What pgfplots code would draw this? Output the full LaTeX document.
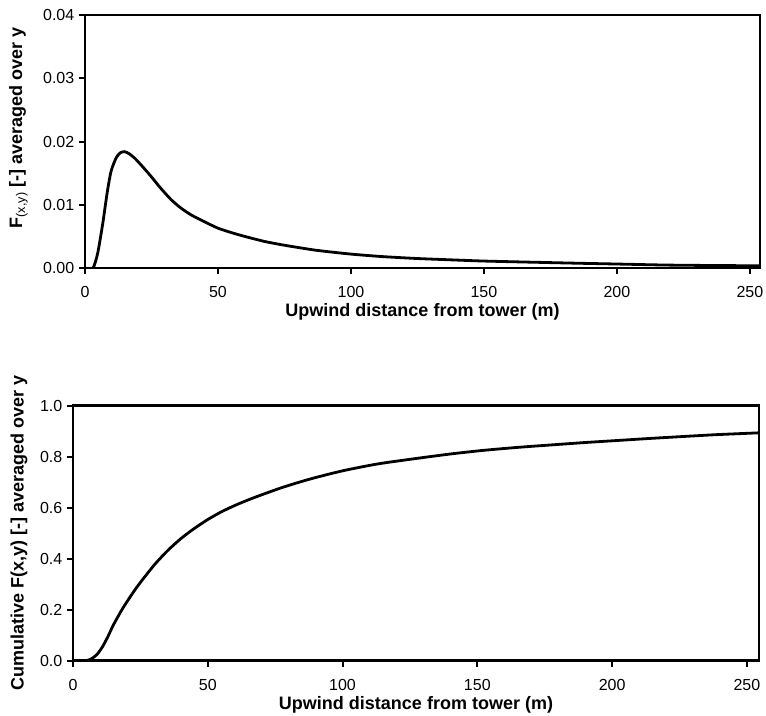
\documentclass[border=0pt]{standalone}
\usepackage{pgfplots}
\pgfplotsset{compat=1.18}
\usepackage{fontspec}
\setmainfont{Liberation Sans}
\begin{document}
\begin{tikzpicture}
\useasboundingbox (0pt,0pt) rectangle (574.5pt,-536.25pt);
\pgfplotsset{
  every axis/.append style={
    scale only axis,
    axis line style={line width=2pt},
    tick style={line width=1.5pt,black},
    major tick length=4.5pt,
    tick align=outside,
    xtick pos=bottom, ytick pos=left,
    /pgf/number format/assume math mode=true,
    tick label style={font=\fontsize{12}{14}\selectfont},
    label style={font=\bfseries\fontsize{13.5}{16}\selectfont},
    xmin=0, xtick={0,50,100,150,200,250},
    xlabel={Upwind distance from tower (m)},
    xticklabel style={yshift=-6pt},
    every axis x label/.append style={at={(0.5,0)},anchor=north,yshift=-23.3pt},
  }
}
% Top panel
\begin{axis}[
  at={(63.75pt,-201pt)}, anchor=south west,
  width=506.25pt, height=189.75pt,
  xmax=253.8, ymin=0, ymax=0.04,
  ytick={0,0.01,0.02,0.03,0.04},
  yticklabel style={/pgf/number format/fixed,/pgf/number format/fixed zerofill,/pgf/number format/precision=2},
  scaled y ticks=false,
  ylabel={F\textsubscript{\mdseries(x,y)} [-] averaged over y},
  every axis y label/.append style={at={(axis description cs:-0.0986,0.555)},anchor=center},
]
\addplot[black,line width=2.1pt,smooth,tension=0.4] coordinates {
(0,0) (3,0) (4.8,0.0024) (6.7,0.0071) (8.3,0.0118) (9.8,0.0153) (11.7,0.0174)
(13.2,0.0182) (14.8,0.0184) (16.5,0.0181) (18.6,0.0174) (21.5,0.0161) (24.8,0.0145)
(28.5,0.0126) (32.4,0.0108) (36,0.0095) (39.9,0.0084) (45,0.0073) (50,0.0063)
(55,0.0056) (60,0.0050) (67.5,0.0042) (75,0.0036) (87,0.0028) (100,0.0022)
(112,0.0018) (125,0.0015) (137,0.0013) (150,0.0011) (170,0.0009) (187,0.00074)
(200,0.00063) (218,0.00047) (235,0.0004) (253.8,0.00035)
};
\end{axis}
% Bottom panel
\begin{axis}[
  at={(54.75pt,-495.4pt)}, anchor=south west,
  width=514.5pt, height=191.25pt,
  xmax=254.5, ymin=0, ymax=1,
  ytick={0,0.2,0.4,0.6,0.8,1.0},
  yticklabel style={/pgf/number format/fixed,/pgf/number format/fixed zerofill,/pgf/number format/precision=1},
  ylabel={Cumulative F(x,y) [-] averaged over y},
  every axis y label/.append style={at={(axis description cs:-0.0787,0.5)},anchor=center},
]
\addplot[black,line width=2.1pt,smooth,tension=0.4] coordinates {
(0,0) (5,0) (7,0.008) (9,0.025) (11,0.055) (13,0.095) (15,0.14) (18.7,0.209) (23.7,0.288)
(30,0.373) (35,0.43) (40,0.478) (45,0.518) (50,0.553) (55,0.583) (60,0.608) (65,0.630)
(70,0.650) (78,0.680) (88,0.712) (100,0.744) (113,0.771) (127,0.792) (140,0.810) (152,0.824)
(165,0.836) (178,0.846) (190,0.855) (202,0.863) (214,0.871) (227,0.879) (239,0.886) (254.5,0.893)
};
\end{axis}
\end{tikzpicture}
\end{document}
